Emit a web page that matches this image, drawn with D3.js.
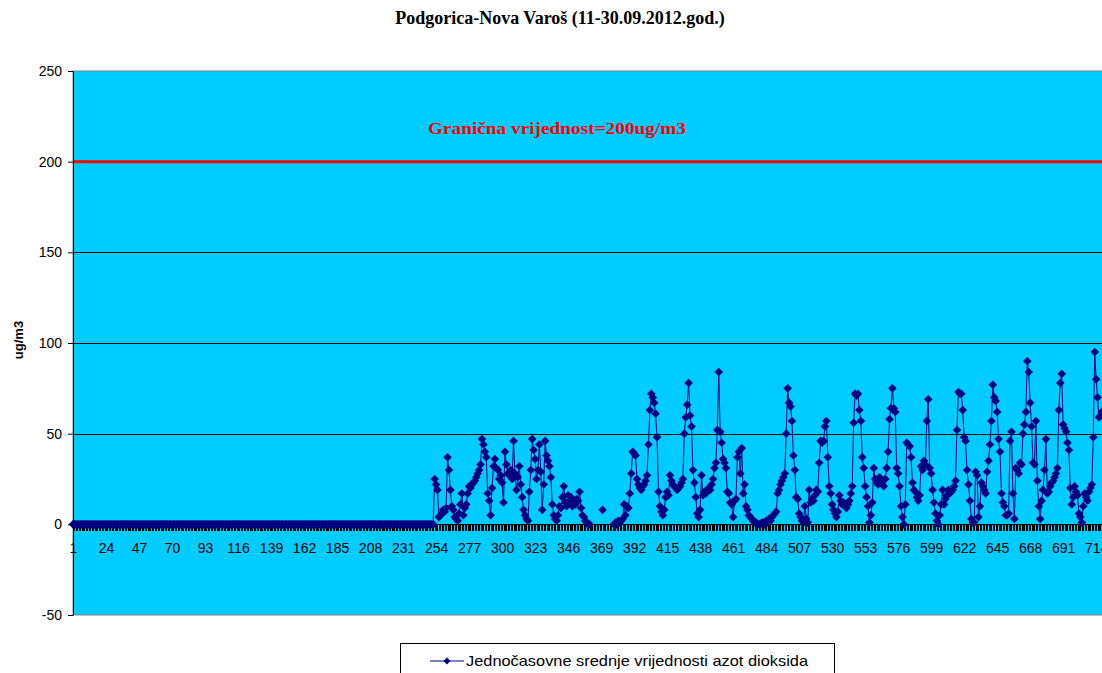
<!DOCTYPE html>
<html>
<head>
<meta charset="utf-8">
<script src="https://cdn.jsdelivr.net/npm/d3@7"></script>
<style>
  body { margin: 0; background: #ffffff; }
  svg { display: block; }
</style>
</head>
<body>
<script>
// hourly categories 1..720
const categories = d3.range(1, 721);

// hours with 0 values before measurements start
const zeroHours = [
  0, 0, 0, 0, 0, 0, 0, 0, 0, 0, 0, 0, 0, 0, 0, 0, 0, 0, 0, 0, 0, 0, 0, 0,
  0, 0, 0, 0, 0, 0, 0, 0, 0, 0, 0, 0, 0, 0, 0, 0, 0, 0, 0, 0, 0, 0, 0, 0,
  0, 0, 0, 0, 0, 0, 0, 0, 0, 0, 0, 0, 0, 0, 0, 0, 0, 0, 0, 0, 0, 0, 0, 0,
  0, 0, 0, 0, 0, 0, 0, 0, 0, 0, 0, 0, 0, 0, 0, 0, 0, 0, 0, 0, 0, 0, 0, 0,
  0, 0, 0, 0, 0, 0, 0, 0, 0, 0, 0, 0, 0, 0, 0, 0, 0, 0, 0, 0, 0, 0, 0, 0,
  0, 0, 0, 0, 0, 0, 0, 0, 0, 0, 0, 0, 0, 0, 0, 0, 0, 0, 0, 0, 0, 0, 0, 0,
  0, 0, 0, 0, 0, 0, 0, 0, 0, 0, 0, 0, 0, 0, 0, 0, 0, 0, 0, 0, 0, 0, 0, 0,
  0, 0, 0, 0, 0, 0, 0, 0, 0, 0, 0, 0, 0, 0, 0, 0, 0, 0, 0, 0, 0, 0, 0, 0,
  0, 0, 0, 0, 0, 0, 0, 0, 0, 0, 0, 0, 0, 0, 0, 0, 0, 0, 0, 0, 0, 0, 0, 0,
  0, 0, 0, 0, 0, 0, 0, 0, 0, 0, 0, 0, 0, 0, 0, 0, 0, 0, 0, 0, 0, 0, 0, 0,
  0, 0, 0, 0, 0, 0, 0, 0, 0, 0, 0, 0
];

// NO2 hourly means from hour 253 on (null = no data)
const no2Values = [
  25, 22, 19, 4, 5, 6, 8, 7, 9, 37,
  30, 19, 10, 8, 4, 3, 2, 6, 11, 17,
  5, 9, 11, 17, 21, 20, 22, 23, 24, 26,
  28, 30, 33, 47, 44, 40, 37, 17, 13, 5,
  20, 32, 36, 31, 30, 25, 27, 23, 12, 40,
  33, 28, 27, 30, 25, 46, 28, 19, 26, 32,
  22, 15, 8, 5, 3, 2, 18, 30, 47, 41,
  36, 25, 30, 44, 29, 8, 22, 46, 38, 35,
  32, 26, 11, 5, 3, 2, 5, 10, 9, 15,
  21, 12, 10, 16, 13, 15, 10, 12, 11, 14,
  13, 18, 9, 5, 4, 2, 1, 0, 0, null,
  null, null, null, null, null, null, null, 8, null, null,
  null, null, null, null, null, 0, 1, 0, 2, 1,
  2, 3, 11, 5, 10, 9, 17, 28, 40, 39,
  38, 25, 22, 20, 19, 21, 22, 24, 27, 44,
  63, 72, 70, 67, 61, 48, 18, 10, 7, 5,
  8, 15, 18, 16, 27, 24, 22, 21, 20, 19,
  20, 21, 23, 25, 50, 59, 66, 78, 60, 54,
  30, 23, 15, 6, 4, 8, 27, 16, 18, 17,
  19, 20, 19, 22, 25, 31, 34, 52, 84, 51,
  45, 36, 34, 31, 18, 17, 12, 11, 4, 13,
  14, 37, 40, 28, 42, 17, 22, 10, 8, 5,
  4, 3, 2, 1, 1, 0, 0, 0, 1, 1,
  0, 2, 1, 3, 2, 4, 5, 6, 7, 17,
  19, 22, 24, 26, 28, 50, 75, 67, 65, 57,
  38, 30, 15, 14, 6, 4, 2, 1, 10, 3,
  1, 19, 12, 14, 13, 16, 19, 18, 34, 46,
  45, 46, 54, 57, 37, 21, 17, 11, 8, 6,
  4, 7, 16, 13, 11, 12, 10, 9, 11, 13,
  17, 21, 56, 72, 71, 72, 63, 57, 37, 31,
  21, 15, 10, 1, 5, 12, 31, 25, 23, 22,
  26, 24, 22, 21, 25, 31, 40, 58, 64, 75,
  64, 62, 31, 28, 21, 10, 4, 0, 11, 45,
  44, 43, 37, 23, 19, 18, 15, 13, 16, 32,
  30, 35, 33, 57, 69, 31, 28, 19, 12, 6,
  2, 0, 5, 11, 19, 11, 14, 16, 19, 17,
  18, 19, 21, 24, 52, 73, 72, 72, 63, 48,
  46, 30, 22, 13, 3, 1, 1, 29, 27, 4,
  10, 23, 21, 19, 17, 29, 35, 44, 57, 77,
  70, 68, 62, 47, 40, 17, 12, 10, 5, 5,
  6, 46, 51, 17, 3, 31, 30, 28, 34, 33,
  50, 55, 62, 90, 84, 67, 54, 34, 33, 57,
  24, 10, 3, 13, 19, 30, 47, 17, 18, 21,
  23, 24, 26, 28, 31, 63, 78, 83, 55, 53,
  51, 45, 41, 20, 11, 15, 21, 18, 16, 6,
  4, 1, 10, 17, 15, 13, 18, 20, 22, 48,
  95, 80, 70, 59, 60, 62
];

const values = zeroHours.concat(no2Values);

const yTicks = [-50, 0, 50, 100, 150, 200, 250];
const gridValues = [50, 100, 150];
const xLabels = categories.filter(function (c) { return (c - 1) % 23 === 0; });
const limitValue = 200;

const title = "Podgorica-Nova Varoš (11-30.09.2012.god.)";
const limitLabel = "Granična vrijednost=200ug/m3";
const yTitle = "ug/m3";
const seriesName = "Jednočasovne srednje vrijednosti azot dioksida";

const width = 1102, height = 673;
const plot = { left: 73, top: 71, bottom: 615, step: 1.435 };
const plotRight = plot.left + (categories.length - 1) * plot.step;

const svg = d3
  .select("body")
  .append("svg")
  .attr("width", width)
  .attr("height", height);

svg.append("rect").attr("width", width).attr("height", height).attr("fill", "#ffffff");

const x = d3.scalePoint().domain(categories).range([plot.left, plotRight]);
const y = d3.scaleLinear().domain([-50, 250]).range([plot.bottom, plot.top]);

// plot area
svg
  .append("rect")
  .attr("x", plot.left)
  .attr("y", plot.top)
  .attr("width", plotRight + 6 - plot.left)
  .attr("height", plot.bottom - plot.top)
  .attr("fill", "#00ccff")
  .attr("stroke", "#808080")
  .attr("stroke-width", 1);

svg
  .append("g")
  .selectAll("line")
  .data(gridValues)
  .join("line")
  .attr("x1", plot.left)
  .attr("x2", width)
  .attr("y1", function (d) { return Math.round(y(d)) + 0.5; })
  .attr("y2", function (d) { return Math.round(y(d)) + 0.5; })
  .attr("stroke", "#000000")
  .attr("stroke-width", 1);

// limit line
svg
  .append("line")
  .attr("x1", plot.left)
  .attr("x2", width)
  .attr("y1", y(limitValue))
  .attr("y2", y(limitValue))
  .attr("stroke", "#ff0000")
  .attr("stroke-width", 3);

svg
  .append("text")
  .attr("x", 557)
  .attr("y", 134)
  .attr("text-anchor", "middle")
  .attr("font-family", "'Liberation Serif', 'Times New Roman', serif")
  .attr("font-weight", "bold")
  .attr("font-size", 16)
  .attr("fill", "#ff0000")
  .attr("textLength", 258)
  .attr("lengthAdjust", "spacingAndGlyphs")
  .text(limitLabel);

// y axis
const yAxis = svg
  .append("g")
  .attr("transform", "translate(" + plot.left + ",0)")
  .call(
    d3
      .axisLeft(y)
      .tickValues(yTicks)
      .tickFormat(function (d) { return String(d); })
      .tickSize(5)
      .tickPadding(6)
      .tickSizeOuter(0)
  );
yAxis.select(".domain").attr("stroke", "#000000");
yAxis.selectAll("line").attr("stroke", "#000000");
yAxis
  .selectAll("text")
  .attr("font-family", "'Liberation Sans', Arial, sans-serif")
  .attr("font-size", 14)
  .attr("fill", "#000000");

// x axis at zero: line, dense category ticks, labels
const y0 = Math.round(y(0)) + 0.5;
svg
  .append("g")
  .selectAll("line")
  .data(categories)
  .join("line")
  .attr("x1", function (d) { return Math.round(x(d)) + 0.5; })
  .attr("x2", function (d) { return Math.round(x(d)) + 0.5; })
  .attr("y1", y0)
  .attr("y2", y0 + 6)
  .attr("stroke", "#000000")
  .attr("shape-rendering", "crispEdges");

svg
  .append("line")
  .attr("x1", plot.left)
  .attr("x2", width)
  .attr("y1", y0)
  .attr("y2", y0)
  .attr("stroke", "#000000");

const xAxis = svg
  .append("g")
  .attr("transform", "translate(0," + y(0) + ")")
  .call(d3.axisBottom(x).tickValues(xLabels).tickSize(0).tickPadding(19));
xAxis.select(".domain").remove();
xAxis
  .selectAll("text")
  .attr("font-family", "'Liberation Sans', Arial, sans-serif")
  .attr("font-size", 14)
  .attr("fill", "#000000");

// series
const points = categories
  .map(function (c, i) { return { c: c, v: values[i] }; })
  .filter(function (d) { return d.v !== undefined; });

svg
  .append("path")
  .datum(points)
  .attr("fill", "none")
  .attr("stroke", "#000080")
  .attr("stroke-width", 1)
  .attr(
    "d",
    d3
      .line()
      .defined(function (d) { return d.v !== null; })
      .x(function (d) { return x(d.c); })
      .y(function (d) { return y(d.v); })
  );

const diamond = "M0,-4.3L4.3,0L0,4.3L-4.3,0Z";
svg
  .append("g")
  .selectAll("path")
  .data(points.filter(function (d) { return d.v !== null; }))
  .join("path")
  .attr("d", diamond)
  .attr("transform", function (d) { return "translate(" + x(d.c) + "," + y(d.v) + ")"; })
  .attr("fill", "#000080");

// titles
svg
  .append("text")
  .attr("x", 560)
  .attr("y", 24)
  .attr("text-anchor", "middle")
  .attr("font-family", "'Liberation Serif', 'Times New Roman', serif")
  .attr("font-weight", "bold")
  .attr("font-size", 18)
  .attr("fill", "#000000")
  .text(title);

svg
  .append("text")
  .attr("transform", "translate(23,340) rotate(-90)")
  .attr("text-anchor", "middle")
  .attr("font-family", "'Liberation Sans', Arial, sans-serif")
  .attr("font-weight", "bold")
  .attr("font-size", 13)
  .attr("fill", "#000000")
  .text(yTitle);

// legend
const legend = svg.append("g");
legend
  .append("rect")
  .attr("x", 400.5)
  .attr("y", 643.5)
  .attr("width", 434)
  .attr("height", 40)
  .attr("fill", "#ffffff")
  .attr("stroke", "#000000");
legend
  .append("line")
  .attr("x1", 430)
  .attr("x2", 464)
  .attr("y1", 661)
  .attr("y2", 661)
  .attr("stroke", "#000080")
  .attr("stroke-width", 1);
legend
  .append("path")
  .attr("d", "M0,-3.5L3.5,0L0,3.5L-3.5,0Z")
  .attr("transform", "translate(447,661)")
  .attr("fill", "#000080");
legend
  .append("text")
  .attr("x", 466)
  .attr("y", 666)
  .attr("font-family", "'Liberation Sans', Arial, sans-serif")
  .attr("font-size", 15)
  .attr("fill", "#000000")
  .attr("textLength", 342)
  .attr("lengthAdjust", "spacingAndGlyphs")
  .text(seriesName);
</script>
</body>
</html>
